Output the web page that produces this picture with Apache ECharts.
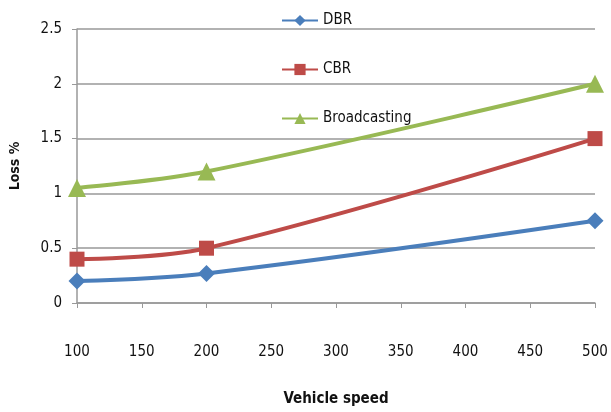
<!DOCTYPE html>
<html><head><meta charset="utf-8">
<script src="https://cdn.jsdelivr.net/npm/echarts@6/dist/echarts.min.js"></script>
<style>html,body{margin:0;padding:0;background:#fff}#c{width:611px;height:412px}</style>
</head><body><div id="c"></div>
<script>
const speeds = [100, 200, 500];
const dbr = [0.2, 0.27, 0.75];
const cbr = [0.4, 0.5, 1.5];
const broadcasting = [1.05, 1.2, 2.0];
const seriesNames = ['DBR', 'CBR', 'Broadcasting'];

const font = "'DejaVu Sans Condensed', 'Liberation Sans Narrow', 'Liberation Sans', Arial, sans-serif";
const pairs = ys => speeds.map((x, i) => [x, ys[i]]);

const chart = echarts.init(document.getElementById('c'));
chart.setOption({
  animation: false,
  backgroundColor: '#fff',
  grid: {left: 76, right: 16, top: 29, bottom: 99},
  legend: {
    orient: 'vertical', left: 276, top: 8, itemGap: 34,
    itemWidth: 36, itemHeight: 14,
    textStyle: {fontFamily: font, fontSize: 15, color: '#111'},
    data: seriesNames
  },
  xAxis: {
    type: 'value', min: 100, max: 500, interval: 50,
    name: 'Vehicle speed', nameLocation: 'middle', nameGap: 89,
    nameTextStyle: {fontFamily: font, fontSize: 15, fontWeight: 'bold', color: '#111'},
    axisLine: {lineStyle: {color: '#999', width: 1.5}},
    axisTick: {show: true, length: 5, lineStyle: {color: '#999'}},
    axisLabel: {margin: 42, fontFamily: font, fontSize: 15, color: '#111'},
    splitLine: {show: false}
  },
  yAxis: {
    type: 'value', min: 0, max: 2.5, interval: 0.5,
    name: 'Loss %', nameLocation: 'middle', nameGap: 55, nameRotate: 90,
    nameTextStyle: {fontFamily: font, fontSize: 14, fontWeight: 'bold', color: '#111'},
    axisLine: {show: true, lineStyle: {color: '#999', width: 1.5}},
    axisTick: {show: true, length: 5, lineStyle: {color: '#999'}},
    axisLabel: {margin: 15, fontFamily: font, fontSize: 15, color: '#111'},
    splitLine: {lineStyle: {color: '#999', width: 1.5}}
  },
  series: [
    {name: 'DBR', type: 'line', smooth: 0.35, data: pairs(dbr),
     symbol: 'diamond', symbolSize: 17,
     itemStyle: {color: '#4a7ebb'}, lineStyle: {color: '#4a7ebb', width: 4}},
    {name: 'CBR', type: 'line', smooth: 0.35, data: pairs(cbr),
     symbol: 'rect', symbolSize: 15,
     itemStyle: {color: '#be4b48'}, lineStyle: {color: '#be4b48', width: 4}},
    {name: 'Broadcasting', type: 'line', smooth: 0.35, data: pairs(broadcasting),
     symbol: 'triangle', symbolSize: 18,
     itemStyle: {color: '#98b954'}, lineStyle: {color: '#98b954', width: 4}}
  ]
});
</script></body></html>
